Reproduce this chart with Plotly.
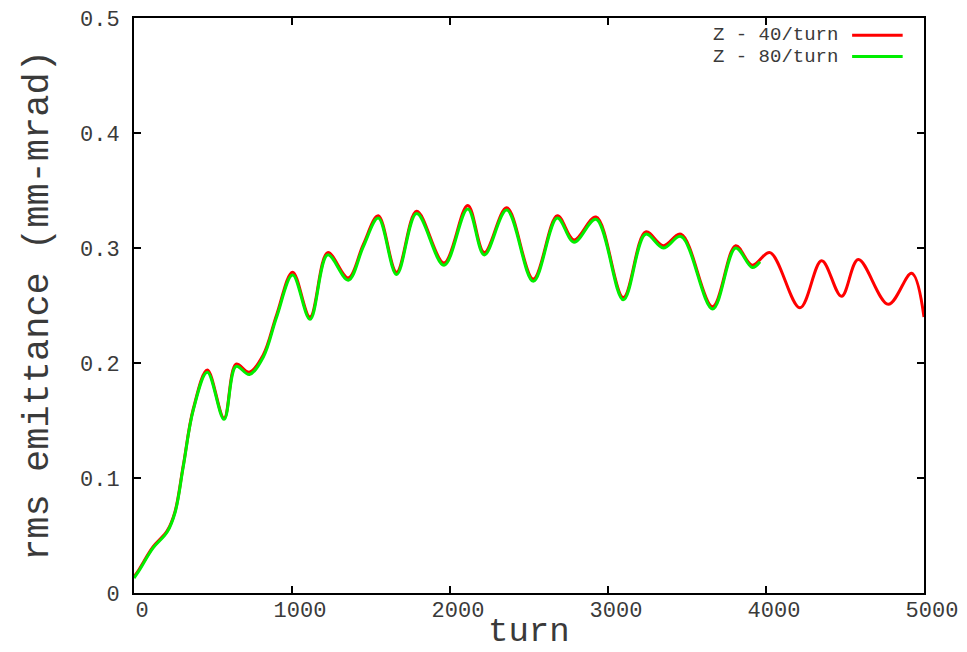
import plotly.graph_objects as go

# Z - 80/turn (green) key readings
turn_80 = [0, 30, 120, 210, 260, 312, 375, 464, 570, 646, 730, 818, 903, 1004, 1114,
           1226, 1356, 1451, 1546, 1662, 1789, 1962, 2112, 2217, 2359, 2527, 2679,
           2785, 2924, 3097, 3238, 3350, 3462, 3662, 3808, 3913, 3962]
emit_80 = [0.013, 0.019, 0.039, 0.053, 0.070, 0.110, 0.159, 0.192, 0.151, 0.197, 0.190,
           0.205, 0.240, 0.2765, 0.238, 0.294, 0.272, 0.301, 0.326, 0.277, 0.330, 0.285,
           0.334, 0.294, 0.333, 0.271, 0.326, 0.305, 0.325, 0.255, 0.312, 0.300, 0.310,
           0.247, 0.300, 0.283, 0.288]

# Z - 40/turn (red) key readings
turn_40 = [0, 30, 120, 210, 260, 312, 375, 464, 570, 646, 730, 818, 903, 1004, 1114,
           1226, 1356, 1451, 1546, 1662, 1789, 1962, 2112, 2217, 2359, 2527, 2679,
           2785, 2924, 3097, 3238, 3350, 3462, 3662, 3808, 3913, 4025, 4215, 4352,
           4478, 4584, 4774, 4922, 5000]
emit_40 = [0.014, 0.020, 0.040, 0.054, 0.071, 0.111, 0.160, 0.194, 0.152, 0.199, 0.192,
           0.207, 0.242, 0.279, 0.240, 0.296, 0.274, 0.303, 0.328, 0.279, 0.332, 0.287,
           0.337, 0.296, 0.335, 0.273, 0.328, 0.307, 0.327, 0.257, 0.314, 0.302, 0.312,
           0.249, 0.302, 0.285, 0.296, 0.248, 0.289, 0.258, 0.290, 0.251, 0.278, 0.240]

legend_labels = ["Z - 40/turn", "Z - 80/turn"]
colors = ["#ff0000", "#00ee00"]

x_ticks = [0, 1000, 2000, 3000, 4000, 5000]
y_ticks = [0, 0.1, 0.2, 0.3, 0.4, 0.5]
y_ticklabels = ["0", "0.1", "0.2", "0.3", "0.4", "0.5"]
x_title = "turn"
y_title = "rms emittance (mm-mrad)"

FONT = "Liberation Mono, Courier New, monospace"
TXT = "#3a3a3a"

fig = go.Figure()
fig.add_trace(go.Scatter(x=turn_40, y=emit_40, mode="lines", name=legend_labels[0],
                         line=dict(color=colors[0], width=3, shape="spline", smoothing=1.0),
                         showlegend=False))
fig.add_trace(go.Scatter(x=turn_80, y=emit_80, mode="lines", name=legend_labels[1],
                         line=dict(color=colors[1], width=3, shape="spline", smoothing=1.0),
                         showlegend=False))

axis_common = dict(showline=True, linecolor="black", linewidth=2, mirror="ticks",
                   ticks="inside", ticklen=7, tickwidth=2, tickcolor="black",
                   showgrid=False, zeroline=False, automargin=False,
                   tickfont=dict(family=FONT, size=22, color=TXT))

fig.update_xaxes(range=[0, 5000], tickvals=x_ticks, ticktext=[str(v) for v in x_ticks],
                 ticklabelshift=8, ticklabelstandoff=-4, **axis_common)
fig.update_yaxes(range=[0, 0.5], tickvals=y_ticks, ticktext=y_ticklabels,
                 title=dict(text=y_title, font=dict(family=FONT, size=37, color=TXT), standoff=20),
                 ticklabelstandoff=8, **axis_common)

# x-axis title placed just below the tick labels, kept inside the page
fig.add_annotation(xref="paper", yref="paper", x=0.5, y=-0.1026, text=x_title,
                   showarrow=False, xanchor="center", yanchor="bottom", borderpad=0,
                   font=dict(family=FONT, size=34, color=TXT))

# legend drawn as text + line samples (top right, line to the right of the text)
leg_y = [0.970, 0.933]
for i in range(2):
    fig.add_annotation(xref="paper", yref="paper", x=0.893, y=leg_y[i], text=legend_labels[i],
                       showarrow=False, xanchor="right", yanchor="middle", borderpad=0,
                       font=dict(family=FONT, size=19, color=TXT))
    fig.add_shape(type="line", xref="paper", yref="paper", x0=0.909, x1=0.973,
                  y0=leg_y[i], y1=leg_y[i], line=dict(color=colors[i], width=3))

fig.update_layout(width=967, height=652, margin=dict(l=134, r=43, t=18, b=59),
                  paper_bgcolor="white", plot_bgcolor="white", showlegend=False)

fig.write_html("out.html")
